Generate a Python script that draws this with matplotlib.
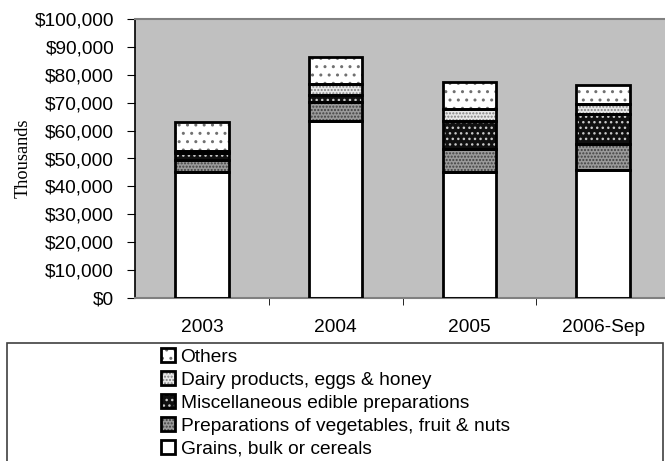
import matplotlib
matplotlib.use('Agg')
import numpy as np
import matplotlib.pyplot as plt
from matplotlib.patches import Rectangle
from matplotlib.ticker import FuncFormatter, FixedLocator

years = ['2003', '2004', '2005', '2006-Sep']
grains = [45.0, 63.3, 45.1, 46.0]
prep_veg = [4.6, 6.8, 8.4, 9.2]
misc = [2.3, 2.6, 10.1, 10.8]
dairy = [0.7, 4.0, 4.1, 3.5]
others = [10.5, 9.8, 9.8, 6.8]

labels = ['Grains, bulk or cereals', 'Preparations of vegetables, fruit & nuts',
          'Miscellaneous edible preparations', 'Dairy products, eggs & honey', 'Others']
series = [grains, prep_veg, misc, dairy, others]
# face colour, hatch, hatch colour
styles = [('white', None, 'white'),
          ('#9a9a9a', '.....', '#404040'),
          ('#101010', '...', '#c8c8c8'),
          ('#e8e8e8', '.....', '#808080'),
          ('white', '..', '#707070')]

plt.rcParams['font.family'] = ['Liberation Sans', 'DejaVu Sans']
plt.rcParams['hatch.linewidth'] = 1.0

fig = plt.figure(figsize=(6.65, 4.61), dpi=100)
ax = fig.add_axes([135/665, 1-298/461, 535/665, 279/461])
ax.set_facecolor('#c0c0c0')

x = np.arange(len(years))
bottom = np.zeros(len(years))
handles = []
for vals, (fc, hatch, hc) in zip(series, styles):
    v = np.array(vals) * 1000
    fill = ax.bar(x, v, 0.4, bottom=bottom, color=fc, hatch=hatch, edgecolor=hc, linewidth=0, zorder=2)
    edge = ax.bar(x, v, 0.4, bottom=bottom, fill=False, edgecolor='black', linewidth=2, zorder=3)
    handles.append((fill, edge))
    bottom += v

ax.set_xlim(-0.5, 3.5)
ax.set_ylim(0, 100000)
ax.set_yticks(np.arange(0, 100001, 10000))
ax.yaxis.set_major_formatter(FuncFormatter(lambda v, p: '${:,.0f}'.format(v)))
ax.set_xticks(x)
ax.set_xticklabels(years)
ax.xaxis.set_minor_locator(FixedLocator([0.5, 1.5, 2.5]))
ax.tick_params(axis='x', which='major', length=0, pad=15, labelsize=13.8)
ax.tick_params(axis='x', which='minor', length=5, direction='out', color='black')
ax.tick_params(axis='y', length=6, direction='out', labelsize=13.8, pad=9)
for s in ['top', 'right', 'bottom']:
    ax.spines[s].set_color('#808080')
    ax.spines[s].set_linewidth(1.5)
ax.spines['left'].set_color('black')
ax.spines['left'].set_linewidth(1.2)
ax.set_ylabel('Thousands', family=['Liberation Serif', 'DejaVu Serif'], fontsize=13.2, labelpad=2)

# legend box
fig.patches.append(Rectangle((7/665, -0.05), (663-7)/665, 1.05-343/461, transform=fig.transFigure,
                             fill=False, edgecolor='#404040', linewidth=1.2))
fig.legend(handles[::-1], labels[::-1], loc='upper left', bbox_to_anchor=(161/665, 1-348/461),
           frameon=False, fontsize=13.8, handlelength=0.72, handleheight=0.72, handletextpad=0.3,
           labelspacing=0.29, borderpad=0, borderaxespad=0)

plt.savefig('out.png', dpi=100)
